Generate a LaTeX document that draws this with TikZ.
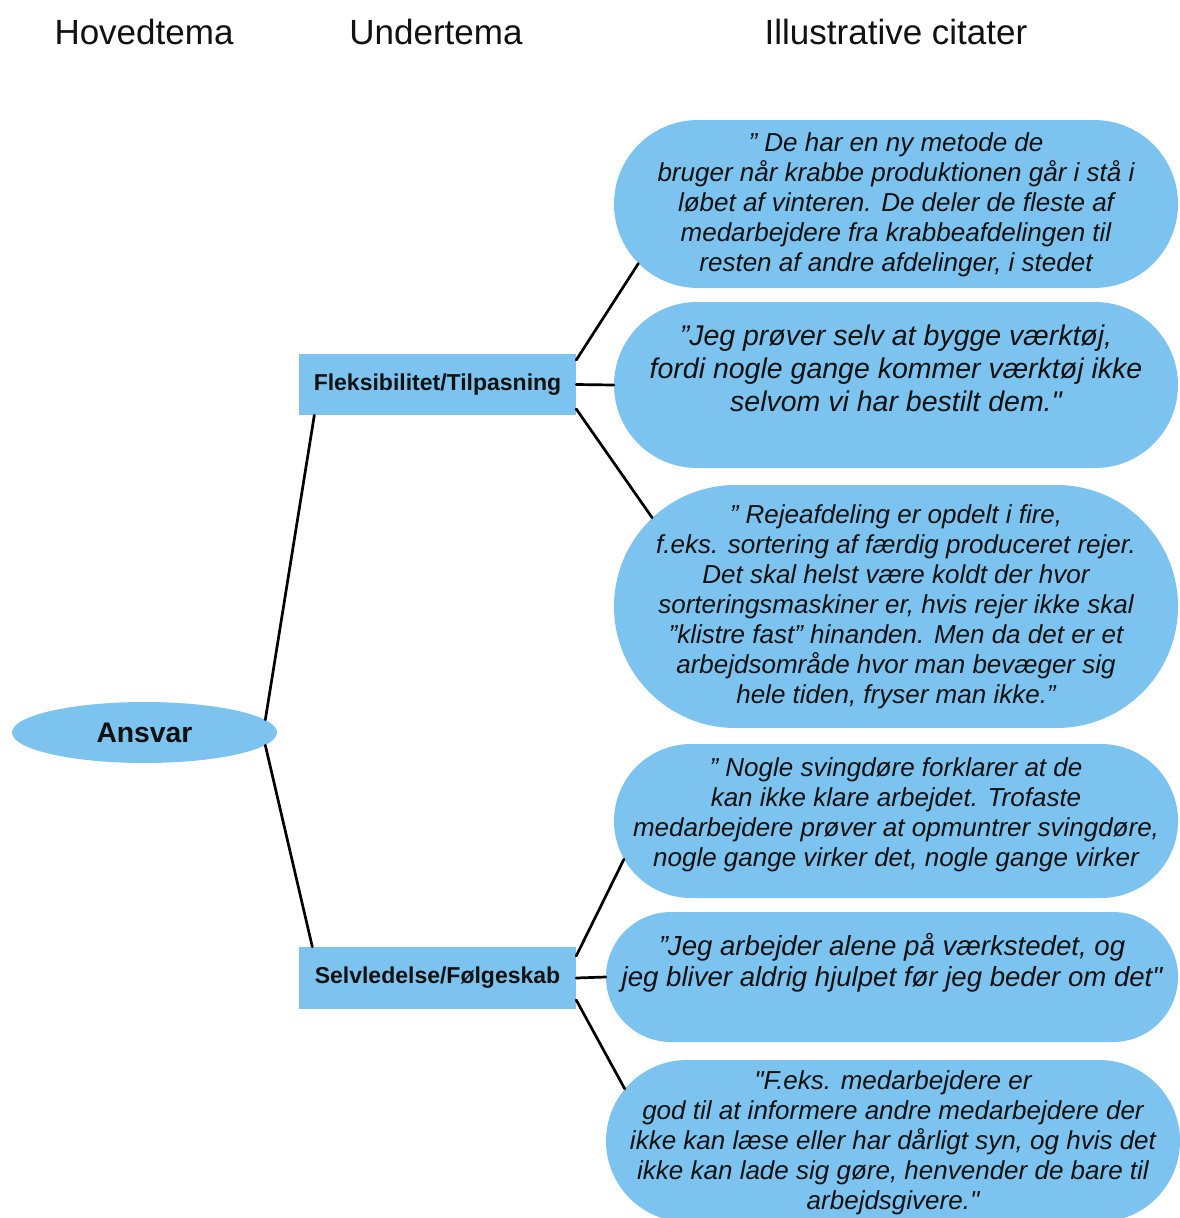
\documentclass[tikz,border=0pt]{standalone}
\usepackage{fontspec}
\setmainfont{Liberation Sans}[Ligatures=TeXOff]
\usepackage{xcolor}
\usepackage{tikz}
\usetikzlibrary{shapes.geometric,shapes.misc}
\definecolor{boxblue}{HTML}{7CC3F0}
\definecolor{ink}{HTML}{111111}
\tikzset{
  head/.style={text=ink, font=\fontsize{35}{42}\selectfont},
  main/.style={ellipse, fill=boxblue, inner sep=0pt, text=ink, font=\bfseries\fontsize{28.3}{34}\selectfont},
  sub/.style={rectangle, fill=boxblue, inner sep=0pt, minimum width=277pt, minimum height=61pt, text=ink, font=\bfseries\fontsize{23}{28}\selectfont},
  bubble/.style={rounded rectangle, fill=boxblue, inner sep=0pt},
  qtxt/.style={align=center, inner sep=0pt, text=ink, font=\itshape\fontsize{26}{30}\selectfont},
  link/.style={draw=black, line width=2.7pt, line cap=round},
}

\begin{document}
\begin{tikzpicture}[x=1pt, y=-1pt]
  \clip (0,0) rectangle (1180,1218);
  % column titles
  \node[head] (h1) at (144,32) {Hovedtema};
  \node[head] (h2) at (436,32) {Undertema};
  \node[head] (h3) at (896,32) {Illustrative citater};

  \node[main, minimum width=265pt, minimum height=61pt] (ansvar) at (144.5,732.5) {Ansvar};
  \node[sub] (fleks) at (437.5,384.5) {Fleksibilitet/Tilpasning};
  \node[sub, minimum height=62pt] (selv) at (437.5,978) {Selvledelse/Følgeskab};

  % quote bubbles
  \node[bubble, minimum width=564pt, minimum height=168pt] (q1) at (896,204) {};
  \node[bubble, minimum width=564pt, minimum height=166pt] (q2) at (896,385) {};
  \node[bubble, minimum width=564pt, minimum height=243pt] (q3) at (896,606.5) {};
  \node[bubble, minimum width=564pt, minimum height=154pt] (q4) at (896,821) {};
  \node[bubble, minimum width=572pt, minimum height=130pt] (q5) at (892,977) {};
  \node[bubble, minimum width=574pt, minimum height=162pt] (q6) at (893,1141) {};

  \node[qtxt, yshift=-1pt] (q1txt) at (q1) {” De har en ny metode de\\
    bruger når krabbe produktionen går i stå i\\
    løbet af vinteren. De deler de fleste af\\
    medarbejdere fra krabbeafdelingen til\\
    resten af andre afdelinger, i stedet};
  \node[qtxt, yshift=17pt, font=\itshape\fontsize{28.5}{33}\selectfont] (q2txt) at (q2) {”Jeg prøver selv at bygge værktøj,\\
    fordi nogle gange kommer værktøj ikke\\
    selvom vi har bestilt dem."};
  \node[qtxt] (q3txt) at (q3) {” Rejeafdeling er opdelt i fire,\\
    f.eks. sortering af færdig produceret rejer.\\
    Det skal helst være koldt der hvor\\
    sorteringsmaskiner er, hvis rejer ikke skal\\
    ”klistre fast” hinanden. Men da det er et\\
    arbejdsområde hvor man bevæger sig\\
    hele tiden, fryser man ikke.”};
  \node[qtxt, yshift=6pt] (q4txt) at (q4) {” Nogle svingdøre forklarer at de\\
    kan ikke klare arbejdet. Trofaste\\
    medarbejdere prøver at opmuntrer svingdøre,\\
    nogle gange virker det, nogle gange virker};
  \node[qtxt, yshift=14pt, font=\itshape\fontsize{27.6}{31}\selectfont] (q5txt) at (q5) {”Jeg arbejder alene på værkstedet, og\\
    jeg bliver aldrig hjulpet før jeg beder om det"};
  \node[qtxt, yshift=-2pt] (q6txt) at (q6) {"F.eks. medarbejdere er\\
    god til at informere andre medarbejdere der\\
    ikke kan læse eller har dårligt syn, og hvis det\\
    ikke kan lade sig gøre, henvender de bare til\\
    arbejdsgivere."};

  % branches
  \draw[link] (ansvar.6) -- (fleks.194);
  \draw[link] (ansvar.-6) -- (selv.166);
  \draw[link] (fleks.10) -- (q1.193);
  \draw[link] (fleks.east) -- (q2.west);
  \draw[link] (fleks.-10) -- (q3.160);
  \draw[link] (selv.9) -- (q4.188);
  \draw[link] (selv.east) -- (q5.west);
  \draw[link] (selv.-9) -- (q6.169);
\end{tikzpicture}
\end{document}
